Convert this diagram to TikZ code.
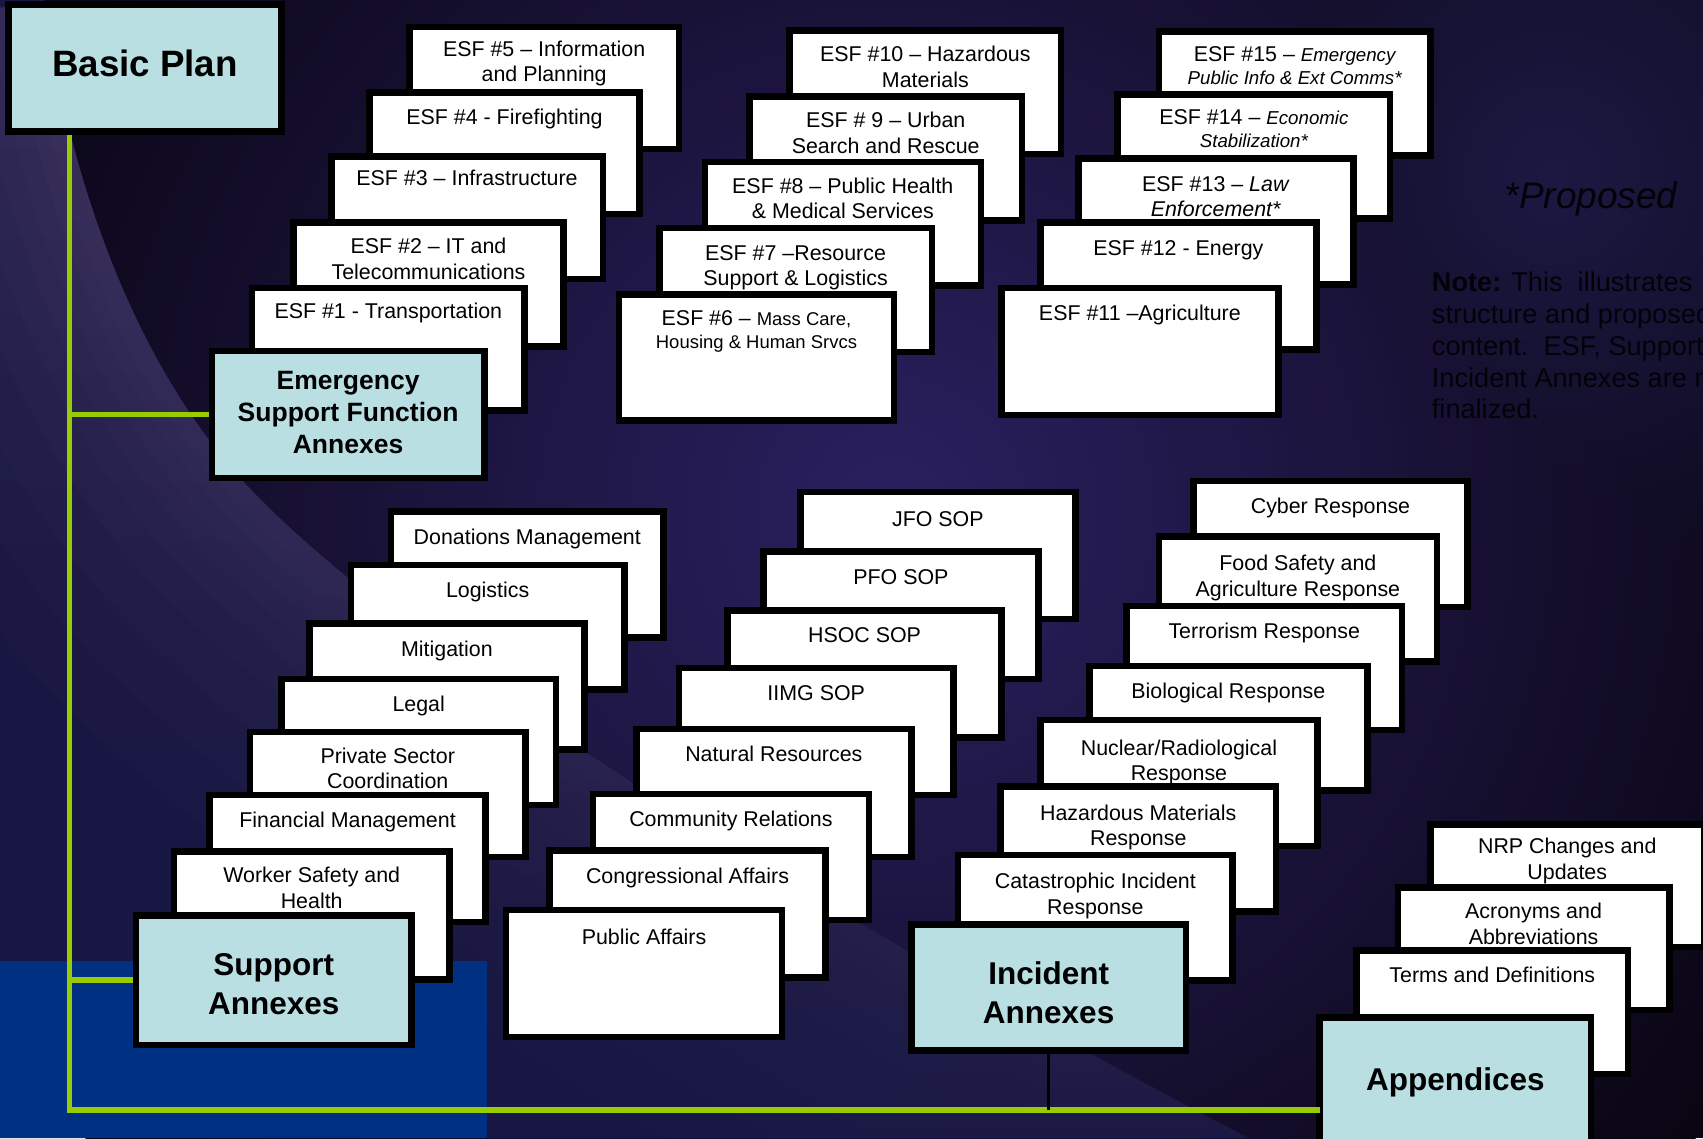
\documentclass[tikz,border=0pt]{standalone}
\usepackage{fontspec}
\setmainfont{Liberation Sans}
\usetikzlibrary{fadings}
\definecolor{cyanbox}{RGB}{185,223,226}
\definecolor{lime}{RGB}{153,204,0}
\definecolor{bgdark}{RGB}{9,5,18}
\definecolor{bgmid}{RGB}{42,32,96}
\definecolor{bgnavy}{RGB}{28,24,66}
\definecolor{planetc}{RGB}{24,22,66}
\definecolor{rimc}{RGB}{84,70,114}
\definecolor{bluerect}{RGB}{0,48,130}
\definecolor{ghost}{RGB}{2,2,8}
\tikzfading[name=rimfade, top color=transparent!0, bottom color=transparent!92]
\newcommand\itsm[1]{{\fontsize{8.6pt}{10.5pt}\selectfont\itshape #1}}
\newcommand\smf[1]{{\fontsize{8.5pt}{10.5pt}\selectfont #1}}
\newcommand\card[7][]{%
  \pgfmathsetmacro\cw{(#5-#3)*0.5-3}%
  \pgfmathsetmacro\ch{(#6-#4)*0.5-3}%
  \node[cardbox, minimum width=\cw pt, minimum height=\ch pt] (#2) at ({(#3+#5)/2},{(#4+#6)/2}) {};%
  \node[cardtxt,#1] (#2-t) at ({(#3+#5)/2},{#4+28}) {#7};%
}
\newcommand\tcard[8]{%
  \pgfmathsetmacro\cw{(#4-#2)*0.5-3}%
  \pgfmathsetmacro\ch{(#5-#3)*0.5-3}%
  \node[titlebox, minimum width=\cw pt, minimum height=\ch pt] (#1) at ({(#2+#4)/2},{(#3+#5)/2}) {};%
  \node[titletxt,#7] (#1-t) at ({(#2+#4)/2},#6) {#8};%
}
\begin{document}
\begin{tikzpicture}[x=0.5pt,y=-0.5pt,
  cardbox/.style={draw=black,line width=3pt,fill=white,inner sep=0pt,outer sep=0pt},
  titlebox/.style={cardbox,fill=cyanbox},
  cardtxt/.style={font=\fontsize{9.85pt}{11.75pt}\selectfont,align=center,inner sep=0pt,text=black},
  titletxt/.style={align=center,inner sep=0pt,text=black},
  twoline/.style={yshift=-4.25pt},
  tight/.style={font=\fontsize{9.85pt}{10.6pt}\selectfont},
  tA/.style={font=\fontsize{16.9pt}{20pt}\selectfont\bfseries},
  tB/.style={font=\fontsize{12.2pt}{14.75pt}\selectfont\bfseries},
  tC/.style={font=\fontsize{14.5pt}{18pt}\selectfont\bfseries},
  greenline/.style={draw=lime,line width=2.5pt},
  rimglow/.style={draw=rimc,opacity=.11,path fading=rimfade},
  ghosttxt/.style={inner sep=0pt,text=ghost,text opacity=1}]
\path[use as bounding box] (0,0) rectangle (1568,1048);
\begin{scope}
\clip (0,0) rectangle (1568,1048);
% background
\fill[bgdark] (0,0) rectangle (1568,1048);
\shade[inner color=bgmid, outer color=bgdark] (820,470) circle (470pt);
\begin{scope}[blend mode=lighten]
\shade[inner color=bgnavy, outer color=bgdark] (1430,160) circle (270pt);
\end{scope}
% planet
\fill[planetc] (0,0) -- (40,0) .. controls (70,200) and (140,360) .. (240,460)
  .. controls (340,560) and (600,760) .. (1150,1048) -- (0,1048) -- cycle;
\begin{scope}
\clip (0,0) -- (40,0) .. controls (70,200) and (140,360) .. (240,460)
  .. controls (340,560) and (600,760) .. (1150,1048) -- (0,1048) -- cycle;
\foreach \w in {260,210,165,125,95,70,50,32,18}{
\draw[rimglow, line width=\w pt] (40,0) .. controls (70,200) and (140,360) .. (240,460)
  .. controls (340,560) and (600,760) .. (1150,1048);
}
\end{scope}
\fill[bluerect] (0,885) rectangle (448,1048);
\end{scope}
% faint texts
\begin{scope}[opacity=1, blend mode=normal]
\node[ghosttxt, font=\fontsize{17pt}{20pt}\selectfont\itshape] (prop) at (1465,183) {*Proposed};
\node[ghosttxt, font=\fontsize{12.5pt}{14.65pt}\selectfont, align=left, anchor=north west] (note) at (1318,250)
  {\textbf{Note:} This\ \ illustrates\\structure and proposed\\content.\ \ ESF, Support\\Incident Annexes are not\\finalized.};
\end{scope}
% ESF column 1
\card[twoline]{esf5}{374}{22}{628}{140}{ESF \#5 – Information\\and Planning}
\card{esf4}{337}{82}{592}{200}{ESF \#4 - Firefighting}
\card[yshift=2.5pt]{esf3}{302}{141}{558}{260}{ESF \#3 – Infrastructure}
\card[twoline]{esf2}{267}{202}{522}{322}{ESF \#2 – IT and\\Telecommunications}
\card[yshift=1pt]{esf1}{229}{262}{486}{381}{ESF \#1 - Transportation}
\tcard{esfa}{192}{320}{449}{443}{380}{tB}{Emergency\\Support Function\\Annexes}
% ESF column 2
\card[twoline]{esf10}{724}{25}{980}{145}{ESF \#10 – Hazardous\\Materials}
\card[twoline]{esf9}{687}{86}{944}{206}{ESF \# 9 – Urban\\Search and Rescue}
\card[twoline]{esf8}{646}{146}{906}{266}{ESF \#8 – Public Health\\\& Medical Services}
\card[yshift=-5.75pt]{esf7}{604}{207}{861}{327}{ESF \#7 –Resource\\Support \& Logistics}
\card[tight,yshift=-4.5pt]{esf6}{567}{268}{826}{390}{ESF \#6 – \smf{Mass Care,}\\\smf{Housing \& Human Srvcs}}
% ESF column 3
\card[tight,yshift=-3.25pt]{esf15}{1064}{26}{1320}{146}{ESF \#15 – \itsm{Emergency}\\\itsm{Public Info \& Ext Comms*}}
\card[tight,yshift=-3.25pt]{esf14}{1026}{84}{1283}{204}{ESF \#14 – \itsm{Economic}\\\itsm{Stabilization*}}
\card[yshift=-5pt]{esf13}{990}{143}{1249}{265}{ESF \#13 – \textit{Law}\\\textit{Enforcement*}}
\card{esf12}{955}{202}{1215}{325}{ESF \#12 - Energy}
\card{esf11}{919}{262}{1180}{385}{ESF \#11 –Agriculture}
% Support column 1
\card{don}{357}{468}{614}{590}{Donations Management}
\card{log}{320}{517}{578}{638}{Logistics}
\card{mit}{282}{571}{541}{693}{Mitigation}
\card{leg}{256}{622}{515}{744}{Legal}
\card[twoline]{psc}{227}{671}{487}{792}{Private Sector\\Coordination}
\card{fin}{190}{729}{450}{852}{Financial Management}
\card[twoline]{wsh}{157}{781}{417}{905}{Worker Safety and\\Health}
\tcard{sa}{122}{840}{382}{965}{906}{tC}{Support\\Annexes}
% Support column 2
\card{jfo}{734}{450}{993}{573}{JFO SOP}
\card[yshift=1pt]{pfo}{700}{505}{959}{628}{PFO SOP}
\card[yshift=1pt]{hsoc}{667}{559}{925}{682}{HSOC SOP}
\card[yshift=1pt]{iimg}{622}{612}{881}{735}{IIMG SOP}
\card[yshift=1pt]{nat}{583}{668}{842}{792}{Natural Resources}
\card{com}{543}{728}{803}{850}{Community Relations}
\card{cong}{503}{780}{763}{903}{Congressional Affairs}
\card{pa}{463}{835}{723}{958}{Public Affairs}
% Incident column
\card{cyb}{1096}{440}{1354}{562}{Cyber Response}
\card[yshift=-6.5pt]{food}{1064}{491}{1326}{612}{Food Safety and\\Agriculture Response}
\card{ter}{1034}{555}{1294}{675}{Terrorism Response}
\card{bio}{1000}{610}{1262}{731}{Biological Response}
\card[yshift=-7pt]{nuc}{955}{660}{1216}{782}{Nuclear/Radiological\\Response}
\card[yshift=-6.5pt]{haz}{918}{721}{1178}{842}{Hazardous Materials\\Response}
\card[yshift=-6.5pt]{cat}{879}{784}{1138}{906}{Catastrophic Incident\\Response}
\tcard{ia}{836}{848}{1095}{970}{914}{tC}{Incident\\Annexes}
% Appendices column
\begin{scope}
\clip (0,0) rectangle (1568,1048);
\card[twoline]{nrp}{1314}{756}{1572}{875}{NRP Changes and\\Updates}
\card[twoline]{acr}{1284}{814}{1540}{933}{Acronyms and\\Abbreviations}
\card[yshift=1pt]{terms}{1246}{872}{1502}{992}{Terms and Definitions}
\tcard{app}{1212}{934}{1468}{1070}{997}{tC}{Appendices}
\end{scope}
% Basic plan
\tcard{bp}{5}{1}{262}{124}{58}{tA}{Basic Plan}
% connectors
\coordinate (gx) at (64,0);
\coordinate (gb) at (64,1022);
\draw[greenline, shorten <=1.5pt] (bp.south -| gx) -- (gb) -- (gb -| app.west);
\draw[greenline, shorten >=1.5pt] (gx |- esfa) -- (esfa.west);
\draw[greenline, shorten >=1.5pt] (gx |- sa) -- (sa.west);
\draw[black, line width=1.5pt, shorten <=1.5pt] (ia.south) -- (ia.south |- gb);
\end{tikzpicture}
\end{document}
